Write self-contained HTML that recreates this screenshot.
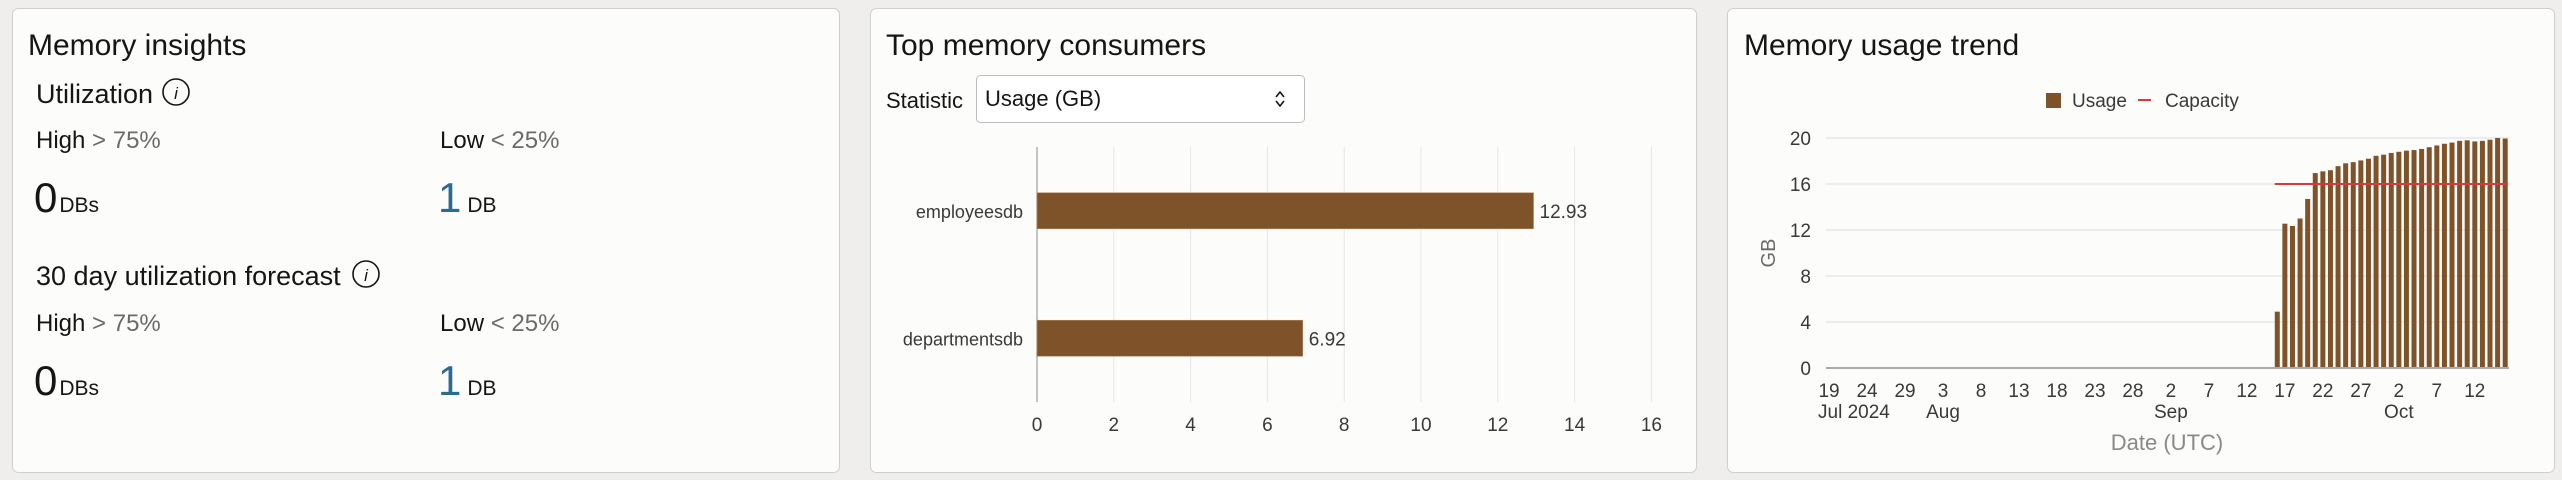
<!DOCTYPE html>
<html><head><meta charset="utf-8">
<style>
html,body{margin:0;padding:0;width:2562px;height:480px;overflow:hidden;background:#efeeec;font-family:"Liberation Sans",sans-serif;}
svg text{font-family:"Liberation Sans",sans-serif;}
</style></head>
<body>
<svg id="root" width="2562" height="480" viewBox="0 0 2562 480" xmlns="http://www.w3.org/2000/svg">
  <!-- Panel 1 -->
  <g>
    <rect x="12.5" y="8.5" width="827" height="464" rx="6" fill="#fcfcfb" stroke="#cfcfcf"/>
    <text x="28" y="55" font-size="30" fill="#161513">Memory insights</text>
    <text x="36" y="103" font-size="27" fill="#161513">Utilization</text>
    <g>
      <circle cx="176" cy="92" r="13" fill="none" stroke="#161513" stroke-width="1.6"/>
      <text x="176" y="99" font-size="17" font-style="italic" text-anchor="middle" fill="#161513" font-family="Liberation Serif">i</text>
    </g>
    <text x="36" y="148" font-size="24" fill="#161513">High <tspan fill="#6b6a68">&gt; 75%</tspan></text>
    <text x="440" y="148" font-size="24" fill="#161513">Low <tspan fill="#6b6a68">&lt; 25%</tspan></text>
    <text x="34" y="212" font-size="42" fill="#161513">0<tspan font-size="21" dx="2">DBs</tspan></text>
    <text x="438" y="212" font-size="42" fill="#2b6a92">1<tspan font-size="21" fill="#161513" dx="6">DB</tspan></text>
    <text x="36" y="285" font-size="27" fill="#161513">30 day utilization forecast</text>
    <g>
      <circle cx="366" cy="274" r="13" fill="none" stroke="#161513" stroke-width="1.6"/>
      <text x="366" y="281" font-size="17" font-style="italic" text-anchor="middle" fill="#161513" font-family="Liberation Serif">i</text>
    </g>
    <text x="36" y="331" font-size="24" fill="#161513">High <tspan fill="#6b6a68">&gt; 75%</tspan></text>
    <text x="440" y="331" font-size="24" fill="#161513">Low <tspan fill="#6b6a68">&lt; 25%</tspan></text>
    <text x="34" y="395" font-size="42" fill="#161513">0<tspan font-size="21" dx="2">DBs</tspan></text>
    <text x="438" y="395" font-size="42" fill="#2b6a92">1<tspan font-size="21" fill="#161513" dx="6">DB</tspan></text>
  </g>

  <!-- Panel 2 -->
  <g>
    <rect x="870.5" y="8.5" width="826" height="464" rx="6" fill="#fcfcfb" stroke="#cfcfcf"/>
    <text x="886" y="55" font-size="30" fill="#161513">Top memory consumers</text>
    <text x="886" y="108" font-size="22" fill="#161513">Statistic</text>
    <g>
      <rect x="976.5" y="75.5" width="328" height="47" rx="4" fill="#fff" stroke="#bdbdbd"/>
      <text x="985" y="106" font-size="22" fill="#161513">Usage (GB)</text>
      <path d="M1276 97 l4 -5 l4 5 M1276 101 l4 5 l4 -5" fill="none" stroke="#161513" stroke-width="1.6"/>
    </g>
    <g id="hbar"></g>
  </g>

  <!-- Panel 3 -->
  <g>
    <rect x="1727.5" y="8.5" width="827" height="464" rx="6" fill="#fcfcfb" stroke="#cfcfcf"/>
    <text x="1744" y="55" font-size="30" fill="#161513">Memory usage trend</text>
    <g>
      <rect x="2046" y="93" width="15" height="15" fill="#7f5329"/>
      <text x="2072" y="107" font-size="19" fill="#3a3938">Usage</text>
    </g>
    <g>
      <line x1="2138" y1="100" x2="2151" y2="100" stroke="#d63b3b" stroke-width="2"/>
      <text x="2165" y="107" font-size="19" fill="#3a3938">Capacity</text>
    </g>
    <g id="trend"></g>
    <text x="0" y="0" font-size="20" fill="#6b6a68" text-anchor="middle" transform="translate(1775,253) rotate(-90)">GB</text>
    <text x="2167" y="450" font-size="22" fill="#8a8987" text-anchor="middle">Date (UTC)</text>
  </g>
</svg>
<script>
const NS = "http://www.w3.org/2000/svg";
// ---- Top consumers data
const consumerNames = ["employeesdb", "departmentsdb"];
const consumerValues = [12.93, 6.92];
const consumerTicks = [0, 2, 4, 6, 8, 10, 12, 14, 16];
// ---- Trend data
const trendTickDays = [0, 5, 10, 15, 20, 25, 30, 35, 40, 45, 50, 55, 60, 65, 70, 75, 80, 85];
const trendTickLabels = ["19","24","29","3","8","13","18","23","28","2","7","12","17","22","27","2","7","12"];
const trendMonthDays = [0, 15, 45, 75];
const trendMonthLabels = ["Jul 2024", "Aug", "Sep", "Oct"];
const trendYTicks = [0, 4, 8, 12, 16, 20];
const usageStartDay = 59;
const usageValues = [4.9,12.55,12.35,13.0,14.7,16.95,17.1,17.2,17.55,17.8,17.9,18.05,18.2,18.45,18.55,18.7,18.8,18.9,18.95,19.05,19.2,19.35,19.5,19.6,19.75,19.8,19.7,19.75,19.85,20.0,19.95];
const capacityValue = 16;

function mk(tag, attrs, parent, txt) {
  const e = document.createElementNS(NS, tag);
  for (const k in attrs) e.setAttribute(k, attrs[k]);
  if (txt !== undefined) e.textContent = txt;
  parent.appendChild(e);
  return e;
}

// Horizontal bar chart
(function(){
  const g = document.getElementById('hbar');
  const x0 = 1037, pxPerUnit = 38.4, top = 147, bottom = 402;
  const xs = v => x0 + v * pxPerUnit;
  const band = (bottom - top) / consumerNames.length;
  consumerTicks.forEach(t => {
    if (t > 0) {
      const l = mk('line', {x1: xs(t), x2: xs(t), y1: top, y2: bottom, stroke: '#e6e6ea', 'stroke-width': 1}, g);
      
      
    }
    const tx = mk('text', {x: xs(t), y: 431, 'font-size': 19, 'text-anchor': 'middle', fill: '#3a3938'}, g, String(t));
    
    
  });
  const ax = mk('line', {x1: x0, x2: x0, y1: top, y2: bottom, stroke: '#9e9e9e', 'stroke-width': 1.2}, g);
  
  
  consumerNames.forEach((n, i) => {
    const cy = top + band * (i + 0.5);
    const h = 36;
    const r = mk('rect', {x: x0, y: cy - h/2, width: xs(consumerValues[i]) - x0, height: h, fill: '#7f5329', stroke: '#b08a63', 'stroke-width': 0.6}, g);
    
    
    const lb = mk('text', {x: 1023, y: cy + 7, 'font-size': 18, 'text-anchor': 'end', fill: '#3a3938'}, g, n);
    
    
    const vl = mk('text', {x: xs(consumerValues[i]) + 6, y: cy + 7, 'font-size': 19, fill: '#3a3938'}, g, consumerValues[i].toFixed(2));
    
    
  });
})();

// Trend chart
(function(){
  const g = document.getElementById('trend');
  const left = 1826, right = 2509, y0 = 368, y20 = 138;
  const dayMin = -0.4, dayMax = 89.5;
  const xs = d => left + (d - dayMin) / (dayMax - dayMin) * (right - left);
  const ys = v => y0 - v / 20 * (y0 - y20);
  trendYTicks.forEach(t => {
    if (t > 0) {
      const l = mk('line', {x1: left, x2: right, y1: ys(t), y2: ys(t), stroke: '#e6e6ec', 'stroke-width': 1.5}, g);
      
      
    }
    const tx = mk('text', {x: 1811, y: ys(t) + 7, 'font-size': 19, 'text-anchor': 'end', fill: '#3a3938'}, g, String(t));
    
    
  });
  const bw = 5;
  usageValues.forEach((v, i) => {
    const d = usageStartDay + i;
    const r = mk('rect', {x: xs(d) - bw/2, y: ys(v), width: bw, height: y0 - ys(v), fill: '#7f5329'}, g);
    
    
  });
  const cap = mk('line', {x1: xs(usageStartDay) - bw/2, x2: xs(usageStartDay + usageValues.length - 1) + bw/2, y1: ys(capacityValue), y2: ys(capacityValue), stroke: '#d63b3b', 'stroke-width': 2}, g);
  
  
  const base = mk('line', {x1: left, x2: right, y1: y0, y2: y0, stroke: '#aaaaaa', 'stroke-width': 2}, g);
  
  
  trendTickDays.forEach((d, i) => {
    const tx = mk('text', {x: xs(d), y: 397, 'font-size': 19, 'text-anchor': 'middle', fill: '#3a3938'}, g, trendTickLabels[i]);
    
    
  });
  trendMonthDays.forEach((d, i) => {
    const first = i === 0;
    const tx = mk('text', {x: first ? 1818 : xs(d), y: 418, 'font-size': 19, 'text-anchor': first ? 'start' : 'middle', fill: '#3a3938'}, g, trendMonthLabels[i]);
    
    
  });
})();
</script>
</body></html>
